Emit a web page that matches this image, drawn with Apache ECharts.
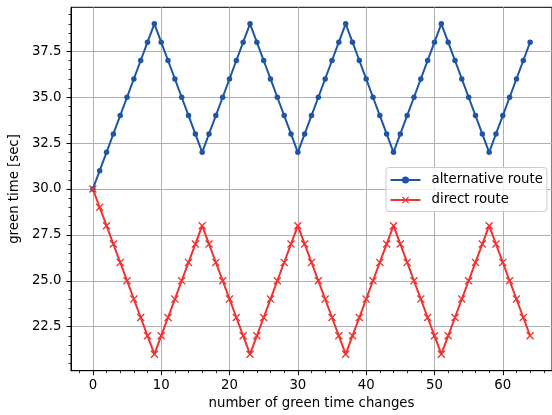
<!DOCTYPE html>
<html><head><meta charset="utf-8">
<script src="https://cdn.jsdelivr.net/npm/echarts@6/dist/echarts.min.js"></script>
<style>html,body{margin:0;padding:0;background:#fff}#c{width:552px;height:415px}</style>
</head><body><div id="c"></div>
<script>
const changes = [0,1,2,3,4,5,6,7,8,9,10,11,12,13,14,15,16,17,18,19,20,21,22,23,24,25,26,27,28,29,30,31,32,33,34,35,36,37,38,39,40,41,42,43,44,45,46,47,48,49,50,51,52,53,54,55,56,57,58,59,60,61,62,63,64];
const alternativeRoute = [30,31,32,33,34,35,36,37,38,39,38,37,36,35,34,33,32,33,34,35,36,37,38,39,38,37,36,35,34,33,32,33,34,35,36,37,38,39,38,37,36,35,34,33,32,33,34,35,36,37,38,39,38,37,36,35,34,33,32,33,34,35,36,37,38];
const directRoute = [30,29,28,27,26,25,24,23,22,21,22,23,24,25,26,27,28,27,26,25,24,23,22,21,22,23,24,25,26,27,28,27,26,25,24,23,22,21,22,23,24,25,26,27,28,27,26,25,24,23,22,21,22,23,24,25,26,27,28,27,26,25,24,23,22];
const xMajorTicks = [0,10,20,30,40,50,60];
const xMinorTicks = [-2,2,4,6,8,12,14,16,18,22,24,26,28,32,34,36,38,42,44,46,48,52,54,56,58,62,64,66];
const yMajorTicks = [22.5,25,27.5,30,32.5,35,37.5];
const yMinorTicks = [20.5,21,21.5,22,23,23.5,24,24.5,25.5,26,26.5,27,28,28.5,29,29.5,30.5,31,31.5,32,33,33.5,34,34.5,35.5,36,36.5,37,38,38.5,39,39.5];

const FONT = 'DejaVu Sans';
const FS = 13.3;
const BLUE = '#1f55a5';
const RED = '#f03232';
const X_SYMBOL = 'path://M0,1.2L1.2,0L5,3.8L8.8,0L10,1.2L6.2,5L10,8.8L8.8,10L5,6.2L1.2,10L0,8.8L3.8,5Z';
const XMIN = -3.2, XMAX = 67.2, YMIN = 20.1, YMAX = 39.9;

const chart = echarts.init(document.getElementById('c'), null, {renderer: 'canvas'});
chart.setOption({
  animation: false,
  backgroundColor: '#fff',
  grid: {left: 68, top: 7.3, width: 487.5, height: 363.4, show: true, borderColor: '#000', borderWidth: 1, backgroundColor: 'transparent', containLabel: false},
  xAxis: [
    {type: 'value', min: XMIN, max: XMAX, position: 'bottom',
     name: 'number of green time changes', nameLocation: 'middle', nameGap: 26,
     nameTextStyle: {fontFamily: FONT, fontSize: FS, color: '#000'},
     axisLine: {show: true, onZero: false, lineStyle: {color: '#000', width: 1}},
     axisTick: {show: true, inside: false, length: 4.5, customValues: xMajorTicks, lineStyle: {color: '#000', width: 1}},
     axisLabel: {show: true, customValues: xMajorTicks, margin: 8, fontFamily: FONT, fontSize: FS, color: '#000'},
     splitLine: {show: true, lineStyle: {color: '#b0b0b0', width: 1}}},
    {type: 'value', min: XMIN, max: XMAX, position: 'bottom',
     axisLine: {show: false, onZero: false},
     axisTick: {show: true, inside: false, length: 2.5, customValues: xMinorTicks, lineStyle: {color: '#000', width: 0.8}},
     axisLabel: {show: false}, splitLine: {show: false}}
  ],
  yAxis: [
    {type: 'value', min: YMIN, max: YMAX, position: 'left',
     name: 'green time [sec]', nameLocation: 'middle', nameGap: 42,
     nameTextStyle: {fontFamily: FONT, fontSize: FS, color: '#000'},
     axisLine: {show: true, onZero: false, lineStyle: {color: '#000', width: 1}},
     axisTick: {show: true, inside: false, length: 4.5, customValues: yMajorTicks, lineStyle: {color: '#000', width: 1}},
     axisLabel: {show: true, customValues: yMajorTicks, margin: 9.5, fontFamily: FONT, fontSize: FS, color: '#000',
                 formatter: v => Number(v).toFixed(1)},
     splitLine: {show: true, lineStyle: {color: '#b0b0b0', width: 1}}},
    {type: 'value', min: YMIN, max: YMAX, position: 'left',
     axisLine: {show: false, onZero: false},
     axisTick: {show: true, inside: false, length: 2.5, customValues: yMinorTicks, lineStyle: {color: '#000', width: 0.8}},
     axisLabel: {show: false}, splitLine: {show: false}}
  ],
  legend: {
    orient: 'vertical', left: 386, top: 167.5,
    itemWidth: 30, itemHeight: 9, itemGap: 7,
    padding: [6, 4, 5, 3.5],
    backgroundColor: 'rgba(255,255,255,0.8)', borderColor: '#cccccc', borderWidth: 1, borderRadius: 3,
    textStyle: {fontFamily: FONT, fontSize: FS, color: '#000', padding: [0, 0, 0, 6]},
    data: ['alternative route', 'direct route']
  },
  series: [
    {type: 'line', name: 'alternative route', xAxisIndex: 0, yAxisIndex: 0,
     data: changes.map((x, i) => [x, alternativeRoute[i]]),
     symbol: 'circle', symbolSize: 5.5, showSymbol: true, color: BLUE,
     lineStyle: {width: 2, color: BLUE}, itemStyle: {color: BLUE}},
    {type: 'line', name: 'direct route', xAxisIndex: 0, yAxisIndex: 0,
     data: changes.map((x, i) => [x, directRoute[i]]),
     symbol: X_SYMBOL, symbolSize: 8, showSymbol: true, color: RED,
     lineStyle: {width: 2, color: RED}, itemStyle: {color: RED}}
  ]
});
</script>
</body></html>
